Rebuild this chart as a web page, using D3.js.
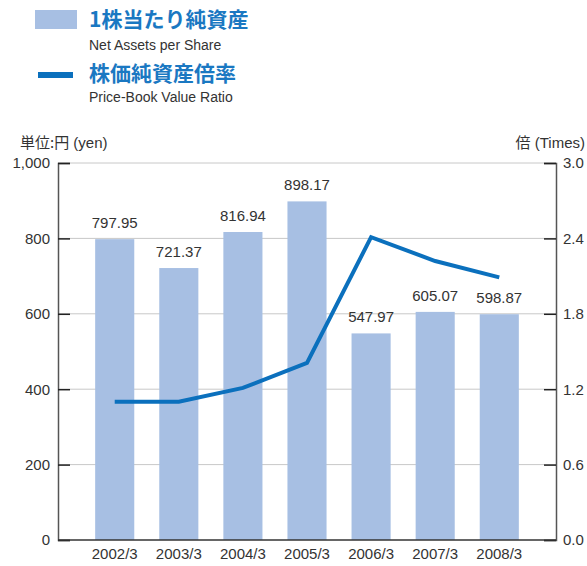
<!DOCTYPE html>
<meta charset="utf-8" />
<html>
<head>
<script src="https://d3js.org/d3.v7.min.js"></script>
<style>
  body { margin: 0; background: #fff; }
  text { font-family: "Liberation Sans", Arial, sans-serif; fill: #333; }
  .jp { font-family: "Noto Sans CJK JP", sans-serif; }
</style>
</head>
<body>
<svg width="587" height="566"></svg>
<script>
// data
var years = ["2002/3", "2003/3", "2004/3", "2005/3", "2006/3", "2007/3", "2008/3"];
var netAssets = [797.95, 721.37, 816.94, 898.17, 547.97, 605.07, 598.87];
var pbr = [1.1, 1.1, 1.21, 1.41, 2.41, 2.22, 2.09];
var leftTicks = [0, 200, 400, 600, 800, 1000];
var rightTicks = [0, 0.6, 1.2, 1.8, 2.4, 3.0];

var barColor = "#a7bfe3", lineColor = "#0b70bd", titleColor = "#1a78c2";

var svg = d3.select("svg");
var plotLeft = 58, plotRight = 556, plotTop = 163, plotBottom = 540;

var x = d3.scaleBand().domain(years).range([plotLeft, plotRight]).paddingInner(0.39).paddingOuter(0.58);
var yL = d3.scaleLinear().domain([0, 1000]).range([plotBottom, plotTop]);
var yR = d3.scaleLinear().domain([0, 3]).range([plotBottom, plotTop]);

// gridlines
svg.append("g").selectAll("line").data(leftTicks.slice(1)).enter().append("line")
    .attr("x1", plotLeft).attr("x2", plotRight)
    .attr("y1", function(d) { return yL(d); }).attr("y2", function(d) { return yL(d); })
    .attr("stroke", "#c8c8c8").attr("stroke-width", 1);

// bars
svg.append("g").selectAll("rect").data(netAssets).enter().append("rect")
    .attr("x", function(d, i) { return x(years[i]); })
    .attr("width", x.bandwidth())
    .attr("y", function(d) { return yL(d); })
    .attr("height", function(d) { return plotBottom - yL(d); })
    .attr("fill", barColor);

// bar labels
svg.append("g").selectAll("text").data(netAssets).enter().append("text")
    .attr("x", function(d, i) { return x(years[i]) + x.bandwidth() / 2; })
    .attr("y", function(d) { return yL(d) - 11; })
    .attr("text-anchor", "middle")
    .attr("font-size", 15)
    .text(function(d) { return d.toFixed(2); });

// pbr line
var line = d3.line()
    .x(function(d, i) { return x(years[i]) + x.bandwidth() / 2; })
    .y(function(d) { return yR(d); });
svg.append("path").datum(pbr).attr("d", line)
    .attr("fill", "none").attr("stroke", lineColor).attr("stroke-width", 4)
    .attr("stroke-linejoin", "miter");

// axes
var axL = svg.append("g").attr("transform", "translate(" + plotLeft + ",0)")
    .call(d3.axisLeft(yL).tickValues(leftTicks).tickSize(-12).tickPadding(8).tickFormat(d3.format(",")));
var axR = svg.append("g").attr("transform", "translate(" + plotRight + ",0)")
    .call(d3.axisRight(yR).tickValues(rightTicks).tickSize(-12).tickPadding(7).tickFormat(d3.format(".1f")));
[axL, axR].forEach(function(a) {
    a.select(".domain").attr("stroke", "#555").attr("stroke-width", 1.5);
    a.selectAll(".tick line").attr("stroke", "#222").attr("stroke-width", 1.5);
    a.selectAll(".tick text").attr("font-size", 15).attr("fill", "#333")
        .attr("font-family", "'Liberation Sans', Arial, sans-serif");
});
svg.append("line").attr("x1", plotLeft).attr("x2", plotRight).attr("y1", plotBottom).attr("y2", plotBottom)
    .attr("stroke", "#333").attr("stroke-width", 1.5);

// x labels
svg.append("g").selectAll("text").data(years).enter().append("text")
    .attr("x", function(d) { return x(d) + x.bandwidth() / 2; })
    .attr("y", 559)
    .attr("text-anchor", "middle")
    .attr("font-size", 15)
    .text(function(d) { return d; });

// axis titles
svg.append("text").attr("x", 20).attr("y", 148).attr("font-size", 15)
    .html('<tspan class="jp">単位:円</tspan> (yen)');
svg.append("text").attr("x", 585).attr("y", 148).attr("font-size", 15).attr("text-anchor", "end")
    .html('<tspan class="jp">倍</tspan> (Times)');

// legend
svg.append("rect").attr("x", 35).attr("y", 10).attr("width", 42).attr("height", 19).attr("fill", barColor);
svg.append("text").attr("class", "jp").attr("x", 89).attr("y", 27).attr("font-size", 21)
    .attr("font-weight", "bold").style("fill", titleColor).text("1株当たり純資産");
svg.append("text").attr("x", 89).attr("y", 50).attr("font-size", 14).text("Net Assets per Share");
svg.append("line").attr("x1", 38).attr("x2", 73).attr("y1", 75).attr("y2", 75)
    .attr("stroke", lineColor).attr("stroke-width", 6);
svg.append("text").attr("class", "jp").attr("x", 89).attr("y", 81).attr("font-size", 21)
    .attr("font-weight", "bold").style("fill", titleColor).text("株価純資産倍率");
svg.append("text").attr("x", 89).attr("y", 102).attr("font-size", 14).text("Price-Book Value Ratio");
</script>
</body>
</html>
